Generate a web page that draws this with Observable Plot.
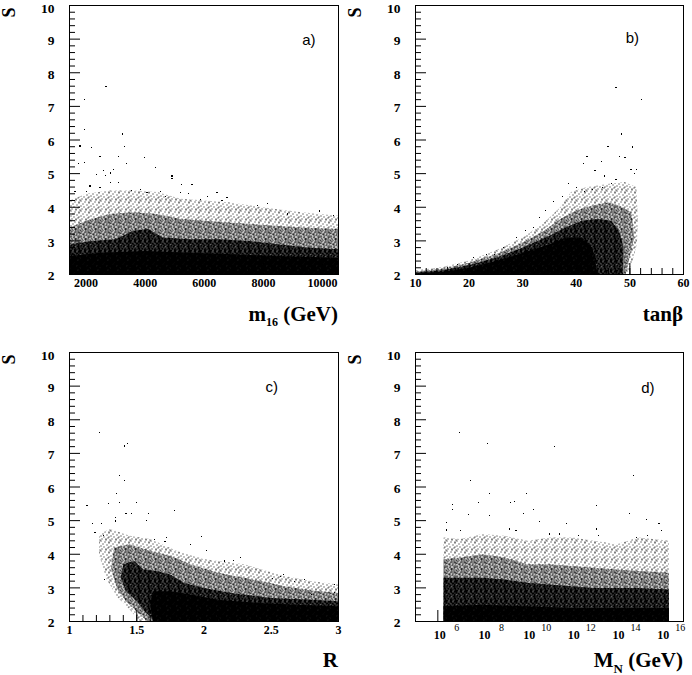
<!DOCTYPE html>
<html><head><meta charset="utf-8">
<script src="https://cdn.jsdelivr.net/npm/d3@7"></script>
<script src="https://cdn.jsdelivr.net/npm/@observablehq/plot@0.6"></script>
<style>
body{margin:0;background:#fff;}
#wrap{position:relative;width:692px;height:675px;overflow:hidden;background:#fff;}
</style></head><body>
<svg width="0" height="0" style="position:absolute;left:0;top:0"><defs id="pdefs"></defs></svg>
<div id="wrap"></div>
<script>
// ---------------- DATA ----------------
// Shared y axis (S)
const yMajor = [2, 3, 4, 5, 6, 7, 8, 9, 10];

// Panel a) S vs m16 (GeV): density regions [m16, S] and sparse points
const m16Solid = [[1440,2],[1440,2.55],[2500,2.65],[4000,2.7],[5500,2.65],[7000,2.6],[8500,2.55],[10540,2.5],[10540,2]];
const m16Dense = [[1440,2],[1440,2.9],[2200,3.0],[3000,3.05],[3600,3.3],[4100,3.35],[4600,3.1],[5500,3.05],[6500,3.05],[7500,3.0],[8500,2.9],[9500,2.8],[10540,2.75],[10540,2]];
const m16Mid = [[1440,2],[1440,3.4],[2000,3.6],[2800,3.8],[3600,3.85],[4400,3.8],[5200,3.65],[6000,3.6],[6800,3.55],[7600,3.5],[8400,3.45],[9300,3.4],[10540,3.35],[10540,2]];
const m16Light = [[1440,2],[1440,4.2],[2000,4.4],[2800,4.5],[3600,4.5],[4400,4.45],[5200,4.25],[6000,4.2],[6800,4.15],[7600,4.05],[8400,3.95],[9300,3.85],[10540,3.75],[10540,2]];
const m16Pts = [[2677,7.60],[1942,7.21],[1942,6.32],[3243,6.18],[1796,5.82],[2193,5.77],[3298,5.80],[2474,5.52],[3094,5.52],[3976,5.47],[1942,5.32],[2925,5.12],[3355,5.29],[4338,5.17],[2362,4.98],[2813,5.02],[4905,4.93],[4905,4.85],[5243,4.68],[5582,4.68],[2135,4.63],[2474,4.58],[1626,4.48],[2023,4.48],[2813,4.73],[3094,4.73],[3548,4.50],[3835,4.53],[4060,4.43],[4508,4.48],[4677,4.33],[5186,4.43],[5469,4.40],[5864,4.23],[6430,4.43],[6770,4.28],[6600,4.20],[7786,4.05],[8125,4.10],[8803,3.80],[9908,3.89],[10380,3.76],[6100,4.32],[1738,5.30],[2600,5.10],[2650,4.95]];
const m16Ticks = [2000, 4000, 6000, 8000, 10000];

// Panel b) S vs tan(beta)
const tanbSolid = [[10,2],[10,2.03],[15,2.08],[20,2.2],[25,2.4],[30,2.65],[35,2.9],[38,3.1],[41,3.1],[43,2.8],[44,2.0]];
const tanbDense = [[10,2],[10,2.06],[15,2.13],[20,2.28],[25,2.5],[30,2.8],[35,3.15],[38,3.4],[41,3.6],[44,3.65],[46.5,3.6],[48,3.3],[48.8,2.8],[48.7,2.0]];
const tanbMid = [[10,2],[10,2.09],[15,2.17],[20,2.35],[25,2.6],[30,2.95],[34,3.3],[37,3.65],[40,3.9],[43,4.05],[46,4.15],[48,4.05],[50.3,3.85],[50.8,3.1],[49.8,2.4],[49.2,2.0]];
const tanbLight = [[10,2],[10,2.12],[15,2.22],[20,2.42],[25,2.72],[30,3.1],[34,3.55],[37,4.0],[39,4.45],[42,4.6],[46,4.7],[49,4.75],[51.2,4.6],[51.5,3.6],[51.3,2.9],[50.3,2.3],[49.5,2.0]];
const tanbPts = [[47.4,7.57],[52.2,7.21],[48.5,6.18],[50.5,5.79],[45.9,5.80],[42.0,5.52],[48.0,5.52],[41.3,5.30],[44.7,5.37],[49.1,5.47],[43.5,5.10],[50.2,5.12],[51.2,5.12],[45.2,4.93],[50.8,5.00],[46.6,4.70],[47.4,4.82],[38.5,4.70],[40.0,4.58],[41.6,4.48],[43.1,4.53],[44.9,4.58],[35.7,4.18],[37.5,4.33],[34.3,3.91],[33.2,3.70],[32.0,3.40],[30.5,3.30],[28.8,3.10],[26.4,2.80],[24.8,2.60],[23.2,2.60],[20.8,2.50],[17.9,2.30],[16.0,2.20],[13.8,2.10],[11.8,2.05]];
const tanbTicks = [10, 20, 30, 40, 50, 60];

// Panel c) S vs R
const rSolid = [[1.62,2.0],[1.6,2.5],[1.62,2.9],[1.75,2.9],[1.9,2.8],[2.1,2.65],[2.4,2.55],[2.7,2.5],[3.0,2.45],[3.0,2.0]];
const rDense = [[1.64,2.0],[1.56,2.3],[1.5,2.6],[1.42,2.9],[1.38,3.3],[1.4,3.7],[1.48,3.8],[1.55,3.55],[1.65,3.5],[1.75,3.4],[1.85,3.15],[2.0,3.0],[2.2,2.85],[2.5,2.7],[2.8,2.65],[3.0,2.6],[3.0,2.0]];
const rMid = [[1.58,2.0],[1.5,2.3],[1.42,2.6],[1.35,3.0],[1.31,3.6],[1.33,4.2],[1.45,4.3],[1.6,4.1],[1.75,3.95],[1.9,3.7],[2.1,3.45],[2.3,3.3],[2.6,3.05],[2.8,2.92],[3.0,2.85],[3.0,2.0]];
const rLight = [[1.52,2.0],[1.45,2.35],[1.35,2.75],[1.27,3.3],[1.22,4.0],[1.22,4.6],[1.3,4.75],[1.45,4.55],[1.6,4.45],[1.8,4.1],[2.0,3.85],[2.3,3.7],[2.6,3.35],[2.8,3.2],[3.0,3.1],[3.0,2.0]];
const rPts = [[1.22,7.62],[1.41,7.22],[1.43,7.30],[1.37,6.33],[1.41,6.20],[1.35,5.80],[1.13,5.44],[1.29,5.50],[1.37,5.55],[1.50,5.55],[1.78,5.31],[1.42,5.22],[1.46,5.22],[1.59,5.20],[1.17,4.91],[1.24,4.91],[1.34,4.99],[1.34,5.10],[1.575,5.00],[1.98,4.52],[1.19,4.64],[1.25,4.57],[1.63,4.44],[1.72,4.51],[1.71,4.37],[1.90,4.30],[2.02,4.10],[2.22,3.82],[2.27,3.90],[2.15,3.80],[2.59,3.40],[2.57,3.35],[2.51,3.27],[2.75,3.25],[2.97,3.10],[1.26,3.26],[2.67,3.20],[2.80,2.80],[2.97,2.85]];
const rTicks = [1, 1.5, 2, 2.5, 3];
const rTickLabels = ["1", "1.5", "2", "2.5", "3"];

// Panel d) S vs M_N, x given as log10(M_N / GeV)
const mnSolid = [[6.25,2],[6.25,2.45],[8,2.5],[10,2.45],[12,2.4],[14,2.4],[16.35,2.4],[16.35,2]];
const mnDense = [[6.25,2],[6.25,3.3],[7,3.3],[8,3.3],[9,3.25],[10,3.15],[11,3.1],[12,3.05],[13,3.0],[14,3.0],[15,3.0],[16.35,2.95],[16.35,2]];
const mnMid = [[6.25,2],[6.25,3.85],[7,3.9],[8,4.0],[9,3.9],[10,3.7],[11,3.7],[12,3.65],[13,3.6],[14,3.55],[15,3.5],[16.35,3.45],[16.35,2]];
const mnLight = [[6.25,2],[6.25,4.5],[7,4.45],[8,4.6],[9,4.55],[10,4.4],[11,4.5],[12,4.5],[13,4.4],[14,4.3],[15,4.5],[16.35,4.4],[16.35,2]];
const mnPts = [[6.96,7.62],[8.21,7.29],[11.24,7.21],[14.75,6.33],[7.46,6.20],[8.33,5.80],[9.97,5.80],[6.66,5.49],[7.81,5.54],[9.27,5.54],[9.45,5.57],[6.66,5.34],[10.27,5.34],[13.10,5.44],[7.39,5.19],[8.30,5.14],[9.82,5.20],[14.60,5.20],[15.35,5.04],[10.57,4.98],[11.76,4.91],[15.90,4.91],[6.39,4.95],[6.39,4.72],[7.00,4.70],[9.20,4.75],[9.50,4.70],[13.10,4.75],[16.00,4.70],[11.00,4.60],[11.46,4.60],[12.30,4.55],[13.20,4.55],[15.40,4.55],[14.90,4.50]];
const mnTickExp = [6, 8, 10, 12, 14, 16];

// ---------------- STYLE: stipple textures for dense point clouds ----------------
const TEXTURES = {
  light: ["#.........","....#...#.","........#.","..#.......","......#...","#.........","...#....#.",".......#..",".#...#....",".....#...#"],
  mid:   ["#.#..#.#..",".#..#.#.#.","#..#.#.#.#",".#.#..#..#","..##.#..#.","#...#.#.#.",".#.#...#.#","#..#.#..#.",".#..##.#..","..#.#..#.#"],
  dense: ["##.###.###","#.####.###","###.####.#",".###.#####","##.###.##.","#####.####","#.##.####.","###.##.###",".####.####","##.####.##"],
  solid: ["##########","####.#####","##########","##.#######","##########","######.###","##########","#########.","##########","#######.##"]
};
const ns = "http://www.w3.org/2000/svg";
(function buildTextures(){
  const defs = document.getElementById("pdefs");
  for (const [name, rows] of Object.entries(TEXTURES)) {
    const p = document.createElementNS(ns, "pattern");
    p.setAttribute("id", "tex-" + name);
    p.setAttribute("patternUnits", "userSpaceOnUse");
    p.setAttribute("width", 10); p.setAttribute("height", 10);
    rows.forEach((row, j) => [...row].forEach((c, i) => {
      if (c === "#") {
        const r = document.createElementNS(ns, "rect");
        r.setAttribute("x", i); r.setAttribute("y", j);
        r.setAttribute("width", 1); r.setAttribute("height", 1);
        r.setAttribute("fill", "black");
        r.setAttribute("shape-rendering", "crispEdges");
        p.appendChild(r);
      }
    }));
    defs.appendChild(p);
  }
})();

const SERIF = "'Liberation Serif','Times New Roman',serif";
const SANS = "'Liberation Sans','DejaVu Sans',sans-serif";
const yMinor = d3.range(2.2, 10, 0.2).filter(v => Math.abs(v - Math.round(v)) > 1e-6);

function addText(svg, x, y, parts, opts = {}) {
  const t = document.createElementNS(ns, "text");
  t.setAttribute("x", x); t.setAttribute("y", y);
  t.setAttribute("text-anchor", opts.anchor || "end");
  t.setAttribute("font-family", SERIF);
  t.setAttribute("font-weight", "bold");
  t.setAttribute("font-size", opts.size || 21);
  t.setAttribute("fill", "black");
  if (opts.rotate) t.setAttribute("transform", `rotate(-90 ${x} ${y})`);
  if (opts.baseline) t.setAttribute("dominant-baseline", opts.baseline);
  let shift = 0;
  for (const p of parts) {
    const s = document.createElementNS(ns, "tspan");
    s.textContent = p.t;
    const want = p.sub ? p.sub : 0;
    if (want !== shift) { s.setAttribute("dy", want - shift); shift = want; }
    if (p.size) s.setAttribute("font-size", p.size);
    t.appendChild(s);
  }
  svg.appendChild(t);
}

function panel(cfg) {
  const W = 346, ml = 69, mr = cfg.mr;
  const FW = W - ml - mr, FH = cfg.h - cfg.mt - cfg.mb;
  const X = cfg.xv || (d => d[0]);
  const XT = cfg.xt || (d => d);
  const regions = [[cfg.light, "light"], [cfg.mid, "mid"], [cfg.dense, "dense"], [cfg.solid, "solid"]];
  const marks = regions.map(([poly, tex]) =>
    Plot.line(poly, {x: X, y: d => d[1], fill: `url(#tex-${tex})`, stroke: "none"}));
  marks.push(Plot.dot(cfg.pts, {x: X, y: d => d[1], r: 0.65, symbol: "square", fill: "black", shapeRendering: "crispEdges"}));
  marks.push(Plot.tickY(yMinor, {y: d => d, insetRight: FW - 6, stroke: "black"}));
  marks.push(Plot.tickY(yMajor, {y: d => d, insetRight: FW - 11, stroke: "black"}));
  marks.push(Plot.tickX(cfg.xMinor, {x: XT, insetTop: FH - 6, stroke: "black"}));
  marks.push(Plot.tickX(cfg.xMajor, {x: XT, insetTop: FH - 11, stroke: "black"}));
  marks.push(Plot.frame({stroke: "black"}));
  const yFont = {fontFamily: SERIF, fontWeight: "bold", fontSize: 13.5, fill: "black", frameAnchor: "left", dx: -15, textAnchor: "end"};
  marks.push(Plot.text(yMajor.filter(v => v < 10), {y: d => d, text: d => String(d), dy: 1.5, ...yFont}));
  marks.push(Plot.text(yMajor.filter(v => v === 10), {y: d => d, text: d => String(d), dy: 3, ...yFont}));
  if (cfg.logLabels) {
    marks.push(Plot.text(cfg.xLabels, {x: XT, text: () => "10", frameAnchor: "bottom", dx: 2, dy: 17,
      fontFamily: SERIF, fontWeight: "bold", fontSize: 12, fill: "black"}));
    marks.push(Plot.text(cfg.xLabels, {x: XT, text: e => String(e), frameAnchor: "bottom", dx: 19, dy: 9,
      fontFamily: SERIF, fontSize: 10, fill: "black"}));
  } else {
    marks.push(Plot.text(cfg.xLabels, {x: XT, text: (d, i) => cfg.xLabelText ? cfg.xLabelText[i] : String(d),
      frameAnchor: "bottom", dy: 12, fontFamily: SERIF, fontWeight: "bold", fontSize: 12, fill: "black"}));
  }
  marks.push(Plot.text([cfg.letter], {text: d => d, frameAnchor: "top-right", dx: cfg.ldx, dy: cfg.ldy,
    fontFamily: SANS, fontSize: 15, fill: "black"}));

  const node = Plot.plot({
    width: W, height: cfg.h,
    marginLeft: ml, marginRight: mr, marginTop: cfg.mt, marginBottom: cfg.mb,
    x: Object.assign({axis: null}, cfg.xScale),
    y: {domain: [2, 10], axis: null},
    style: {background: "white", overflow: "visible"},
    marks
  });
  const svg = node.tagName.toLowerCase() === "svg" ? node : node.querySelector("svg");
  node.style.position = "absolute";
  node.style.left = cfg.left + "px";
  node.style.top = cfg.top + "px";
  // axis titles
  addText(svg, W - mr, cfg.h - cfg.mb + cfg.titleDy, cfg.title, {size: 21});
  addText(svg, 8.5, cfg.mt + 7.5, [{t: "S"}], {size: 18, anchor: "middle", rotate: true, baseline: "central"});
  document.getElementById("wrap").appendChild(node);
}

panel({left: 0, top: 0, h: 330, mt: 5, mb: 56, mr: 8,
  xScale: {domain: [1440, 10540]},
  light: m16Light, mid: m16Mid, dense: m16Dense, solid: m16Solid, pts: m16Pts,
  xMajor: m16Ticks, xMinor: d3.range(1500, 10540, 500), xLabels: m16Ticks,
  letter: "a)", ldx: -23, ldy: 28.5, titleDy: 47,
  title: [{t: "m"}, {t: "16", sub: 5, size: 12}, {t: " (GeV)"}]});

panel({left: 346, top: 0, h: 330, mt: 5, mb: 56, mr: 9,
  xScale: {domain: [10, 60]},
  light: tanbLight, mid: tanbMid, dense: tanbDense, solid: tanbSolid, pts: tanbPts,
  xMajor: tanbTicks, xMinor: d3.range(12, 60, 2), xLabels: tanbTicks,
  letter: "b)", ldx: -44.5, ldy: 26.5, titleDy: 47,
  title: [{t: "tanβ"}]});

panel({left: 0, top: 330, h: 345, mt: 22, mb: 54, mr: 8,
  xScale: {domain: [1, 3]},
  light: rLight, mid: rMid, dense: rDense, solid: rSolid, pts: rPts,
  xMajor: rTicks, xMinor: d3.range(1.1, 3, 0.1), xLabels: rTicks, xLabelText: rTickLabels,
  letter: "c)", ldx: -60.5, ldy: 29, titleDy: 46,
  title: [{t: "R"}]});

panel({left: 346, top: 330, h: 345, mt: 22, mb: 54, mr: 9,
  xScale: {type: "log", domain: [1e5, 1e17]},
  xv: d => 10 ** d[0], xt: e => 10 ** e,
  light: mnLight, mid: mnMid, dense: mnDense, solid: mnSolid, pts: mnPts,
  xMajor: mnTickExp, xMinor: [7, 9, 11, 13, 15], xLabels: mnTickExp, logLabels: true,
  letter: "d)", ldx: -29, ldy: 29.7, titleDy: 46,
  title: [{t: "M"}, {t: "N", sub: 6, size: 13}, {t: " (GeV)"}]});
</script></body></html>
